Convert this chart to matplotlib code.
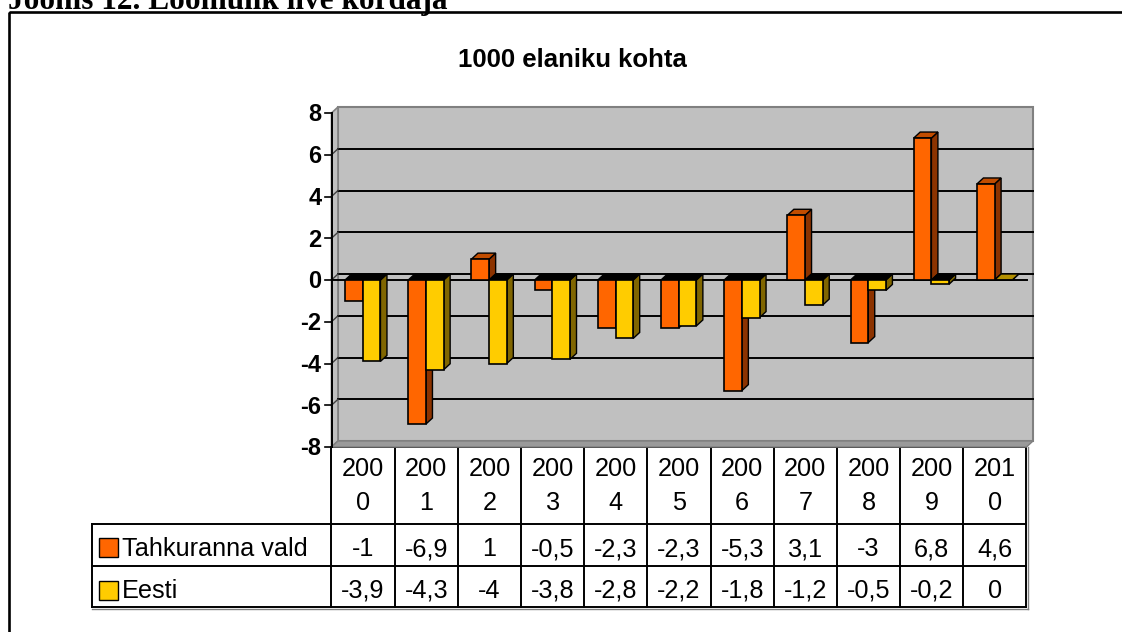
import matplotlib
matplotlib.use("Agg")
import matplotlib.pyplot as plt
from matplotlib.patches import Polygon, Rectangle

years = [2000, 2001, 2002, 2003, 2004, 2005, 2006, 2007, 2008, 2009, 2010]
tahkuranna = [-1, -6.9, 1, -0.5, -2.3, -2.3, -5.3, 3.1, -3, 6.8, 4.6]
eesti = [-3.9, -4.3, -4, -3.8, -2.8, -2.2, -1.8, -1.2, -0.5, -0.2, 0]
series_names = ["Tahkuranna vald", "Eesti"]
y_ticks = [-8, -6, -4, -2, 0, 2, 4, 6, 8]
title = "1000 elaniku kohta"
caption = "Joonis 12. Loomulik iive kordaja"

plt.rcParams['font.family'] = ['Liberation Sans', 'DejaVu Sans']

W, H = 1122, 632
fig = plt.figure(figsize=(W / 100, H / 100), dpi=100)

# overlay in pixel coords (y down) for frame, texts and the data table
ov = fig.add_axes([0, 0, 1, 1])
ov.set_xlim(0, W)
ov.set_ylim(H, 0)
ov.axis('off')

# front plot box, pixels
left, right, top, bottom = 331.5, 1026.5, 113, 447
ax = fig.add_axes([left / W, 1 - bottom / H, (right - left) / W, (bottom - top) / H])
ax.set_xlim(0, len(years))
ax.set_ylim(y_ticks[0], y_ticks[-1])
ax.axis('off')
ax.set_zorder(2)

col_px = (right - left) / len(years)
unit_px = (bottom - top) / (y_ticks[-1] - y_ticks[0])
dx = 6.5 / col_px
dy = 6 / unit_px
n = len(years)
ymin, ymax = y_ticks[0], y_ticks[-1]

# walls
ax.add_patch(Rectangle((dx, ymin + dy), n, ymax - ymin, fc='#c0c0c0', ec='#808080', lw=1.5, clip_on=False, zorder=1))
ax.add_patch(Polygon([(0, ymin), (dx, ymin + dy), (dx, ymax + dy), (0, ymax)],
                     fc='#c0c0c0', ec='#808080', lw=1.2, clip_on=False, zorder=1))
ax.add_patch(Polygon([(0, ymin), (n, ymin), (n + dx, ymin + dy), (dx, ymin + dy)],
                     fc='#9a9a9a', ec='#808080', lw=1.0, clip_on=False, zorder=1))

# gridlines on back wall + ticks
for t in y_ticks:
    if ymin < t < ymax:
        ax.plot([dx, n + dx], [t + dy, t + dy], color='black', lw=1.4, clip_on=False, zorder=2)
        ax.plot([0, dx], [t, t + dy], color='#404040', lw=1.0, clip_on=False, zorder=2)
    ax.plot([-7 / col_px, 0], [t, t], color='black', lw=1.2, clip_on=False, zorder=3)
    ax.text(-10 / col_px, t - 8.3 / unit_px, str(t), ha='right', va='baseline',
            fontsize=17, fontweight='bold', zorder=3)
ax.plot([0, 0], [ymin, ymax], color='black', lw=1.4, clip_on=False, zorder=3)
ax.plot([0, n], [0, 0], color='black', lw=1.4, clip_on=False, zorder=3)

# 3d-ish bars
bar_w = 0.28
styles = [
    (tahkuranna, 0.215, '#ff6600', '#8c3300', '#c24d00'),
    (eesti, 0.495, '#ffcc00', '#806600', '#b39000'),
]
for j in range(n):
    for vals, off, front, side, topc in styles:
        v = vals[j]
        x0 = j + off
        x1 = x0 + bar_w
        yt = max(v, 0)
        tc = topc if v >= 0 else 'black'
        ax.add_patch(Polygon([(x1, 0), (x1, v), (x1 + dx, v + dy), (x1 + dx, dy)],
                             fc=side, ec='black', lw=1.0, clip_on=False, zorder=4))
        ax.add_patch(Polygon([(x0, yt), (x1, yt), (x1 + dx, yt + dy), (x0 + dx, yt + dy)],
                             fc=tc, ec='black', lw=1.0, clip_on=False, zorder=4))
        ax.add_patch(Rectangle((x0, min(v, 0)), bar_w, abs(v), fc=front, ec='black',
                               lw=1.2, clip_on=False, zorder=4))

# title, caption (cut at the top edge like the page it was taken from), frame
ov.text(572, 67, title, ha='center', va='baseline', fontsize=18.5, fontweight='bold')
ov.text(8, 8.5, caption, ha='left', va='baseline', fontsize=22.5, fontweight='bold',
        family=['Liberation Serif', 'DejaVu Serif'])
ov.add_patch(Rectangle((9.5, 12), 1300, 800, fill=False, ec='black', lw=1.9))

# data table
leg_left = 92.5
row_tops = [447, 524, 566, 607]
tl = dict(color='black', lw=1.4)
ov.plot([left, right], [row_tops[0], row_tops[0]], **tl)
for yy in row_tops[1:]:
    ov.plot([leg_left, right], [yy, yy], **tl)
ov.plot([leg_left, leg_left], [row_tops[1], row_tops[3]], **tl)
for k in range(n + 1):
    xx = left + k * col_px
    ov.plot([xx, xx], [row_tops[0], row_tops[3]], **tl)
# light shadow on the right/bottom border
ov.plot([right + 1.5, right + 1.5], [row_tops[0], row_tops[3] + 1.5], color='#808080', lw=1.0)
ov.plot([leg_left, right + 1.5], [row_tops[3] + 1.5, row_tops[3] + 1.5], color='#808080', lw=1.0)

def fmt(v):
    return f"{v:g}".replace('.', ',')

for j, yr in enumerate(years):
    cx = left + (j + 0.5) * col_px
    s = str(yr)
    ov.text(cx, 476, s[:3], ha='center', va='baseline', fontsize=18.2)
    ov.text(cx, 510, s[3:], ha='center', va='baseline', fontsize=18.2)
    ov.text(cx, 556, fmt(tahkuranna[j]), ha='center', va='baseline', fontsize=18.2)
    ov.text(cx, 597.5, fmt(eesti[j]), ha='center', va='baseline', fontsize=18.2)

for name, color, ytop, base in [(series_names[0], '#ff6600', 538, 556.5),
                                (series_names[1], '#ffcc00', 581, 598.5)]:
    ov.add_patch(Rectangle((99, ytop), 19, 19, fc=color, ec='black', lw=1.0))
    ov.text(122, base, name, ha='left', va='baseline', fontsize=18.2)

fig.savefig("out.png", dpi=100)
